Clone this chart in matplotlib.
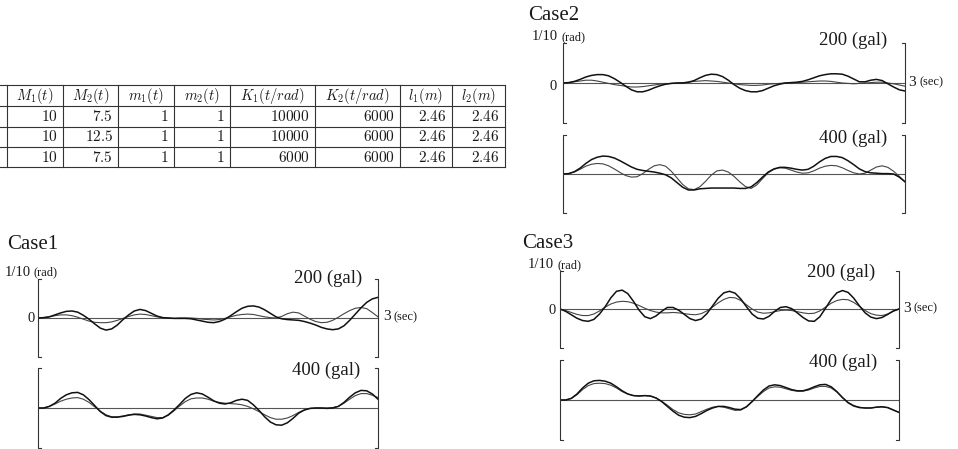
import numpy as np
import matplotlib
matplotlib.use("Agg")
import matplotlib.pyplot as plt

plt.rcParams['mathtext.fontset'] = 'cm'
plt.rcParams['font.family'] = ['Liberation Serif', 'DejaVu Serif']

W, H = 958, 449

# ---------------- table data ----------------
table_header = [r'$M_1(t)$', r'$M_2(t)$', r'$m_1(t)$', r'$m_2(t)$',
                r'$K_1(t/rad)$', r'$K_2(t/rad)$', r'$l_1(m)$', r'$l_2(m)$']
table_rows = [
    ['10', '7.5', '1', '1', '10000', '6000', '2.46', '2.46'],
    ['10', '12.5', '1', '1', '10000', '6000', '2.46', '2.46'],
    ['10', '7.5', '1', '1', '6000', '6000', '2.46', '2.46'],
]

# ---------------- response data (unit: 1/10 rad), sampled every 0.05 s ----------------
time_s = np.linspace(0, 3, 61)

case1_200_a = [0, 0.01, 0.03, 0.08, 0.13, 0.17, 0.18, 0.15, 0.07, -0.03, -0.15, -0.26, -0.31, -0.28, -0.18,
               -0.04, 0.08, 0.18, 0.22, 0.19, 0.12, 0.05, 0.01, 0.0, -0.01, -0.01, -0.01, -0.02, -0.05, -0.08,
               -0.11, -0.12, -0.09, -0.03, 0.06, 0.16, 0.25, 0.30, 0.31, 0.28, 0.21, 0.12, 0.03, -0.02, -0.04,
               -0.05, -0.06, -0.09, -0.13, -0.18, -0.24, -0.28, -0.30, -0.28, -0.20, -0.06, 0.10, 0.26, 0.40,
               0.49, 0.53]
case1_200_b = [0, 0.01, 0.03, 0.06, 0.08, 0.08, 0.06, 0.02, -0.03, -0.08, -0.11, -0.12, -0.12, -0.10, -0.06,
               -0.01, 0.04, 0.08, 0.10, 0.09, 0.06, 0.03, 0.01, 0.0, -0.01, 0.0, 0.0, 0.0, -0.01, -0.03,
               -0.04, -0.05, -0.04, -0.01, 0.03, 0.07, 0.09, 0.10, 0.09, 0.06, 0.03, 0.01, 0.0, 0.04, 0.11,
               0.15, 0.13, 0.05, -0.03, -0.09, -0.12, -0.11, -0.06, 0.02, 0.11, 0.19, 0.25, 0.27, 0.24,
               0.14, 0.03]
case1_400_a = [0, 0.0, 0.04, 0.12, 0.24, 0.33, 0.38, 0.39, 0.33, 0.21, 0.06, -0.09, -0.19, -0.23, -0.23,
               -0.21, -0.18, -0.16, -0.17, -0.20, -0.24, -0.27, -0.25, -0.17, -0.05, 0.09, 0.24, 0.34, 0.38,
               0.35, 0.27, 0.18, 0.12, 0.10, 0.13, 0.19, 0.22, 0.19, 0.08, -0.06, -0.22, -0.35, -0.42, -0.43,
               -0.37, -0.26, -0.13, -0.05, -0.01, 0.0, 0.0, -0.01, 0.0, 0.04, 0.14, 0.27, 0.38, 0.44, 0.43,
               0.35, 0.22]
case1_400_b = [0, 0.0, 0.04, 0.10, 0.17, 0.22, 0.25, 0.26, 0.22, 0.14, 0.03, -0.08, -0.17, -0.22, -0.22,
               -0.20, -0.17, -0.15, -0.15, -0.18, -0.21, -0.24, -0.24, -0.18, -0.07, 0.05, 0.16, 0.23, 0.25,
               0.25, 0.22, 0.17, 0.14, 0.12, 0.11, 0.10, 0.08, 0.04, -0.02, -0.09, -0.17, -0.24, -0.28, -0.28,
               -0.25, -0.19, -0.11, -0.05, -0.01, 0.0, 0.0, 0.0, 0.01, 0.04, 0.12, 0.22, 0.31, 0.36, 0.36,
               0.32, 0.26]

case2_200_a = [0, 0.01, 0.04, 0.09, 0.15, 0.19, 0.21, 0.21, 0.18, 0.11, 0.02, -0.08, -0.17, -0.22, -0.22,
               -0.18, -0.12, -0.07, -0.03, -0.01, 0.0, 0.0, 0.02, 0.06, 0.13, 0.19, 0.22, 0.21, 0.16, 0.07,
               -0.04, -0.13, -0.19, -0.22, -0.22, -0.19, -0.13, -0.07, -0.03, 0.0, 0.01, 0.02, 0.04, 0.08,
               0.13, 0.18, 0.21, 0.23, 0.23, 0.22, 0.17, 0.10, 0.03, 0.03, 0.07, 0.09, 0.06, -0.02, -0.10,
               -0.17, -0.20]
case2_200_b = [0, 0.01, 0.03, 0.05, 0.07, 0.07, 0.05, 0.02, -0.01, -0.04, -0.06, -0.08, -0.10, -0.10, -0.09,
               -0.07, -0.05, -0.03, -0.02, -0.01, 0.0, 0.01, 0.02, 0.04, 0.05, 0.06, 0.05, 0.04, 0.02, 0.0,
               -0.02, -0.04, -0.05, -0.06, -0.06, -0.05, -0.03, -0.02, -0.01, 0.0, 0.0, 0.01, 0.02, 0.03,
               0.04, 0.05, 0.05, 0.04, 0.02, 0.0, -0.01, -0.02, -0.01, 0.0, 0.01, 0.02, 0.02, 0.0, -0.02,
               -0.05, -0.08]
case2_400_a = [0, 0.01, 0.06, 0.15, 0.27, 0.37, 0.43, 0.46, 0.45, 0.41, 0.34, 0.26, 0.18, 0.12, 0.09,
               0.07, 0.05, 0.02, -0.02, -0.10, -0.22, -0.34, -0.41, -0.41, -0.38, -0.37, -0.36, -0.36, -0.36,
               -0.36, -0.36, -0.37, -0.37, -0.33, -0.22, -0.08, 0.05, 0.13, 0.17, 0.17, 0.15, 0.12, 0.10,
               0.12, 0.20, 0.31, 0.40, 0.45, 0.45, 0.42, 0.34, 0.24, 0.13, 0.06, 0.03, 0.02, 0.01, 0.01,
               0.0, -0.08, -0.20]
case2_400_b = [0, 0.01, 0.05, 0.12, 0.20, 0.25, 0.27, 0.26, 0.21, 0.13, 0.04, -0.04, -0.08, -0.07, 0.01,
               0.12, 0.21, 0.24, 0.20, 0.07, -0.10, -0.27, -0.38, -0.40, -0.33, -0.19, -0.03, 0.08, 0.10,
               0.05, -0.06, -0.20, -0.32, -0.37, -0.28, -0.12, 0.03, 0.12, 0.16, 0.15, 0.10, 0.05, 0.02,
               0.03, 0.08, 0.15, 0.20, 0.22, 0.21, 0.16, 0.09, 0.03, 0.0, 0.02, 0.10, 0.18, 0.21, 0.17,
               0.07, -0.06, -0.20]

case3_200_a = [0, -0.06, -0.15, -0.24, -0.30, -0.32, -0.27, -0.13, 0.06, 0.29, 0.46, 0.49, 0.40, 0.20, -0.03,
               -0.20, -0.25, -0.18, -0.06, 0.04, 0.04, -0.03, -0.14, -0.25, -0.30, -0.26, -0.12, 0.08, 0.28,
               0.42, 0.46, 0.41, 0.26, 0.06, -0.13, -0.24, -0.26, -0.19, -0.06, 0.04, 0.06, 0.01, -0.10,
               -0.22, -0.31, -0.32, -0.20, 0.02, 0.25, 0.42, 0.48, 0.43, 0.28, 0.08, -0.10, -0.21, -0.25,
               -0.22, -0.14, -0.05, 0.0]
case3_200_b = [0, -0.04, -0.09, -0.14, -0.17, -0.17, -0.13, -0.05, 0.05, 0.13, 0.18, 0.20, 0.19, 0.15, 0.09,
               0.02, -0.04, -0.08, -0.10, -0.10, -0.09, -0.10, -0.12, -0.14, -0.15, -0.12, -0.05, 0.05, 0.16,
               0.25, 0.30, 0.29, 0.22, 0.11, 0.0, -0.08, -0.11, -0.10, -0.07, -0.04, -0.03, -0.04, -0.07,
               -0.10, -0.12, -0.11, -0.05, 0.05, 0.15, 0.22, 0.25, 0.24, 0.17, 0.07, -0.04, -0.12, -0.16,
               -0.17, -0.13, -0.06, 0.0]
case3_400_a = [0, 0.0, 0.04, 0.15, 0.30, 0.42, 0.48, 0.49, 0.47, 0.42, 0.33, 0.23, 0.15, 0.11, 0.10,
               0.11, 0.10, 0.05, -0.04, -0.16, -0.28, -0.38, -0.43, -0.44, -0.41, -0.34, -0.26, -0.20, -0.16,
               -0.16, -0.19, -0.23, -0.24, -0.17, -0.04, 0.11, 0.25, 0.35, 0.38, 0.36, 0.31, 0.26, 0.23,
               0.23, 0.27, 0.33, 0.38, 0.39, 0.33, 0.21, 0.06, -0.07, -0.15, -0.19, -0.20, -0.20, -0.18,
               -0.17, -0.19, -0.25, -0.31]
case3_400_b = [0, 0.0, 0.04, 0.13, 0.26, 0.36, 0.41, 0.42, 0.41, 0.37, 0.30, 0.21, 0.15, 0.11, 0.10,
               0.11, 0.10, 0.05, -0.03, -0.13, -0.24, -0.32, -0.36, -0.37, -0.35, -0.29, -0.23, -0.18, -0.16,
               -0.18, -0.22, -0.26, -0.25, -0.17, -0.04, 0.09, 0.21, 0.30, 0.33, 0.32, 0.28, 0.24, 0.22,
               0.22, 0.25, 0.30, 0.34, 0.34, 0.30, 0.20, 0.06, -0.06, -0.14, -0.18, -0.20, -0.20, -0.18,
               -0.17, -0.19, -0.25, -0.31]

case_titles = ['Case1', 'Case2', 'Case3']
panel_labels = ['200 (gal)', '400 (gal)']

fig = plt.figure(figsize=(W / 100, H / 100), dpi=100)
fig.patch.set_facecolor('white')


def fx(x):
    return x / W


def fy(y):
    return 1 - y / H


INK = '#1a1a1a'

# ---------------- table ----------------
col_edges = [7, 63, 118, 174, 230, 315, 400, 452, 505]
row_edges = [85, 106, 126.5, 147, 167]
for y in row_edges:
    fig.add_artist(plt.Line2D([fx(0), fx(col_edges[-1])], [fy(y), fy(y)], lw=0.8, color='#333'))
for x in col_edges:
    fig.add_artist(plt.Line2D([fx(x), fx(x)], [fy(row_edges[0]), fy(row_edges[-1])], lw=0.8, color='#333'))
for j, lab in enumerate(table_header):
    xc = (col_edges[j] + col_edges[j + 1]) / 2
    yc = (row_edges[0] + row_edges[1]) / 2
    fig.text(fx(xc), fy(yc), lab, ha='center', va='center', fontsize=10.5, color=INK)
for i, row in enumerate(table_rows):
    yc = (row_edges[i + 1] + row_edges[i + 2]) / 2
    for j, val in enumerate(row):
        fig.text(fx(col_edges[j + 1] - 5), fy(yc), '$' + val + '$', ha='right', va='center',
                 fontsize=11, color=INK)

# ---------------- panels ----------------
panels = [
    # (x0, x1, zero_y, unit_px, thick, thin, label)
    (38, 378, 318, 39, case1_200_a, case1_200_b, 0),
    (38, 378, 408, 40, case1_400_a, case1_400_b, 1),
    (563, 905, 83, 40, case2_200_a, case2_200_b, 0),
    (563, 905, 174, 39, case2_400_a, case2_400_b, 1),
    (560, 899, 309, 38.5, case3_200_a, case3_200_b, 0),
    (560, 899, 400, 40, case3_400_a, case3_400_b, 1),
]

for x0, x1, yz, u, ya, yb, li in panels:
    ax = fig.add_axes([fx(x0), fy(yz + u), (x1 - x0) / W, 2 * u / H])
    ax.set_xlim(0, 3)
    ax.set_ylim(-1, 1)
    ax.axis('off')
    ax.axhline(0, lw=0.8, color='#555')
    ax.plot(time_s, yb, lw=0.8, color='#444')
    ax.plot(time_s, ya, lw=1.1, color='#111')
    tick = 3 * 3 / (x1 - x0)
    ax.plot([tick, 0, 0, tick], [1, 1, -1, -1], lw=0.8, color='#333', clip_on=False)
    ax.plot([3 - tick, 3, 3, 3 - tick], [1, 1, -1, -1], lw=0.8, color='#333', clip_on=False)

# ---------------- labels ----------------
titles_pos = [(7, 245), (528, 15), (522, 244)]
rad_pos = [(5, 272), (532, 37), (528, 265)]
zero_pos = [(35, 319), (557, 87), (556, 311)]
sec_pos = [(383, 317), (908, 82), (903, 308)]
gal_pos = [[(362, 278), (360, 370)], [(887, 40), (887, 138)], [(875, 272), (877, 362)]]

for k in range(3):
    fig.text(fx(titles_pos[k][0]), fy(titles_pos[k][1]), case_titles[k], ha='left', va='center',
             fontsize=15, color=INK)
    fig.text(fx(rad_pos[k][0]), fy(rad_pos[k][1]), '1/10', ha='left', va='center', fontsize=10.5, color=INK)
    fig.text(fx(rad_pos[k][0] + 29), fy(rad_pos[k][1]), '(rad)', ha='left', va='center', fontsize=9, color=INK)
    fig.text(fx(zero_pos[k][0]), fy(zero_pos[k][1]), '0', ha='right', va='center', fontsize=10.5, color=INK)
    fig.text(fx(sec_pos[k][0]), fy(sec_pos[k][1]), '3', ha='left', va='center', fontsize=11, color=INK)
    fig.text(fx(sec_pos[k][0] + 11), fy(sec_pos[k][1]), '(sec)', ha='left', va='center', fontsize=9, color=INK)
    for m in range(2):
        gx, gy = gal_pos[k][m]
        fig.text(fx(gx), fy(gy), panel_labels[m], ha='right', va='center', fontsize=13.5, color=INK)

fig.savefig('out.png', dpi=100, facecolor='white')
